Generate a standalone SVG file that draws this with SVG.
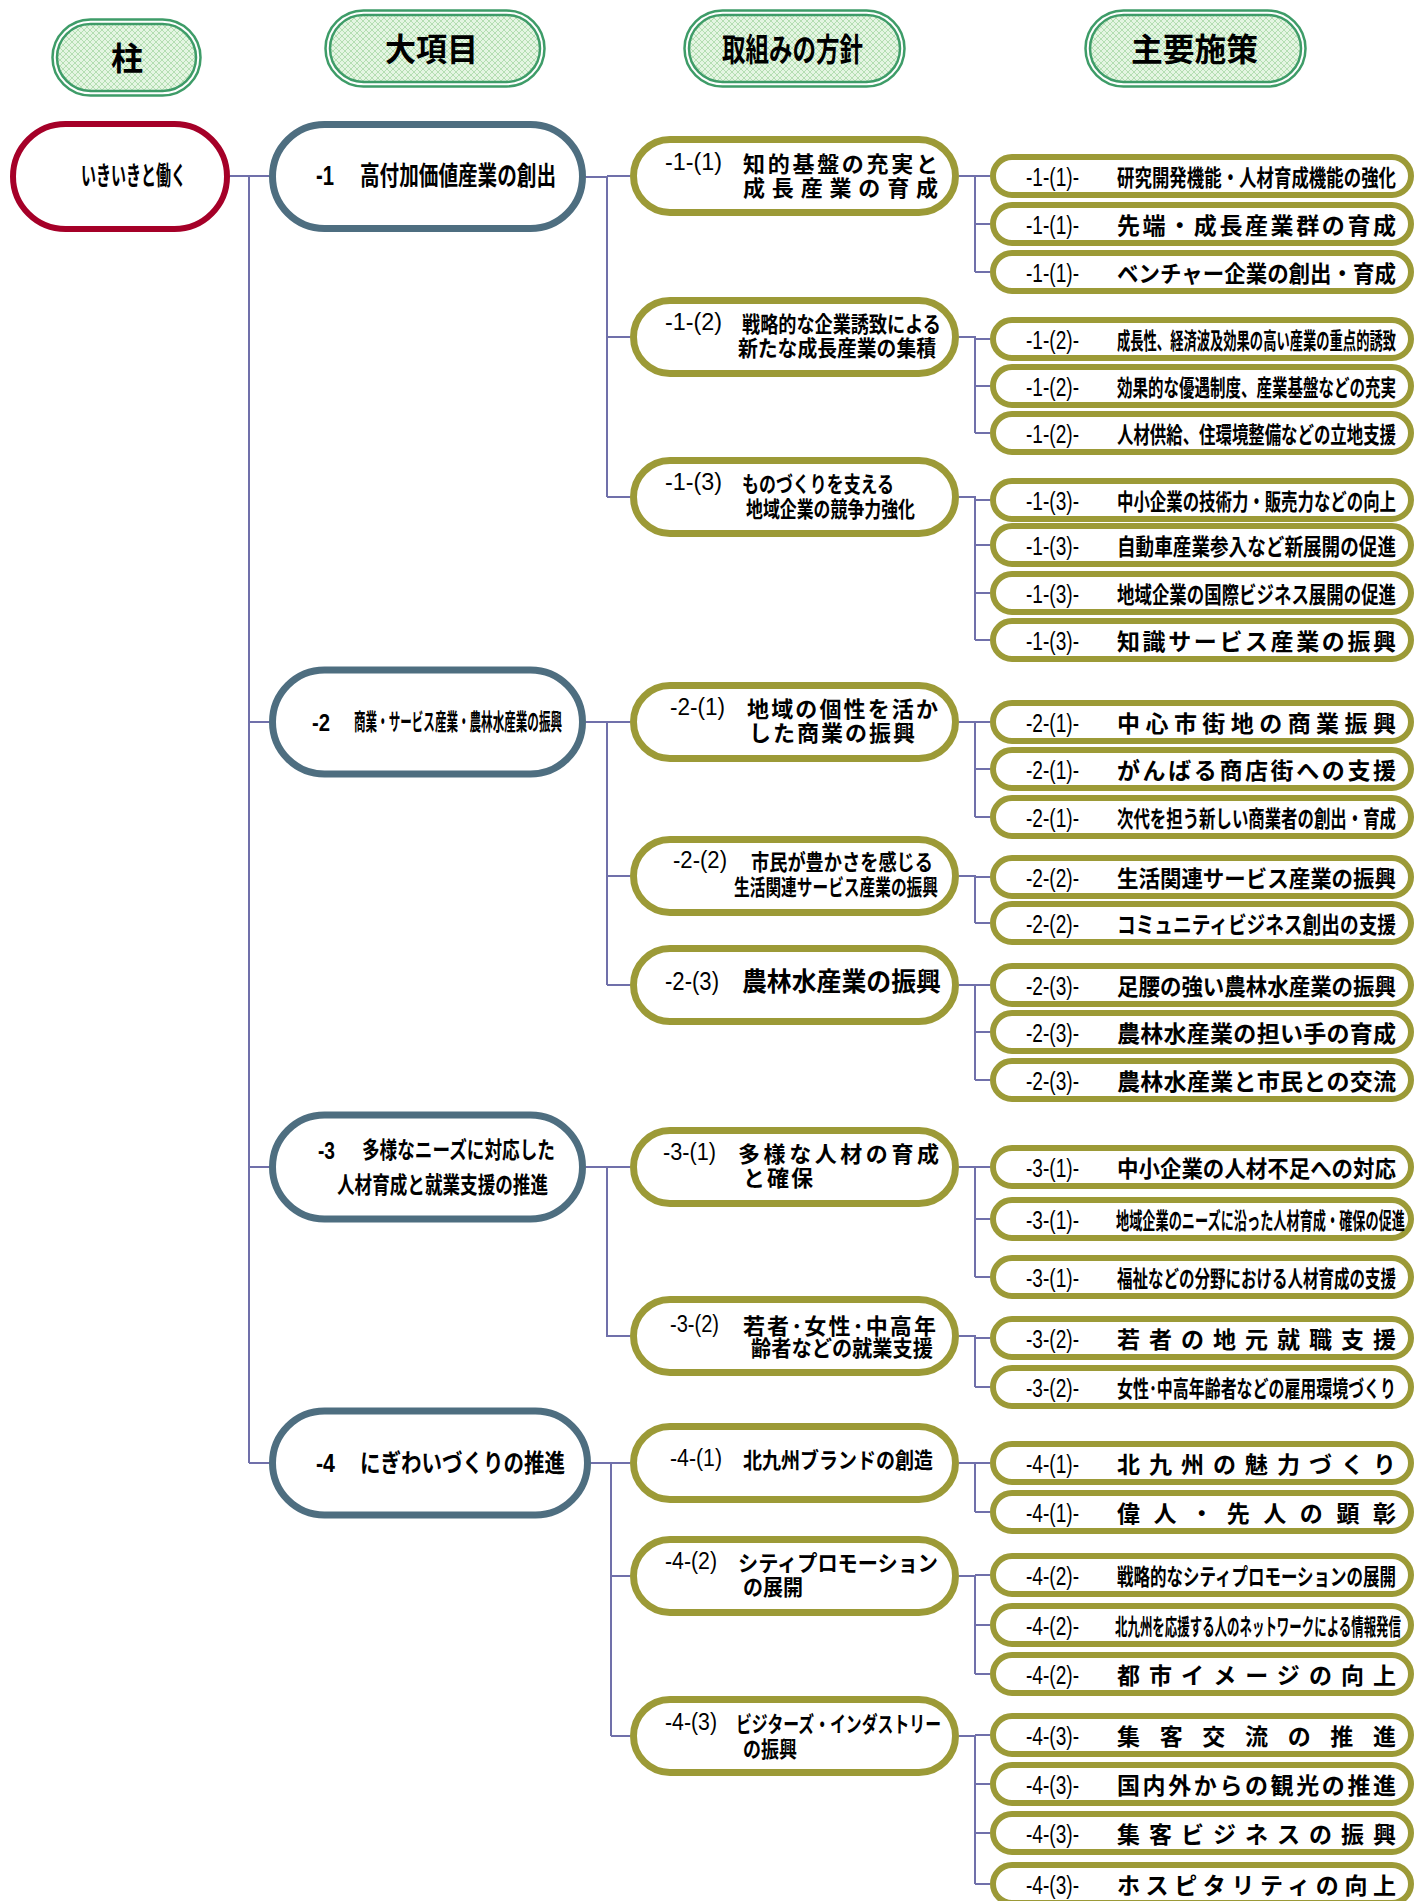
<svg xmlns="http://www.w3.org/2000/svg" width="1416" height="1901" viewBox="0 0 1416 1901">
<defs>
<pattern id="hatch" width="6" height="6" patternUnits="userSpaceOnUse">
<rect width="6" height="6" fill="#E4F5E2"/>
<path d="M0 0L6 6M6 0L0 6" stroke="#B4DEB2" stroke-width="1"/>
</pattern>
<style>
.c{stroke:#7070AA;stroke-width:2;fill:none}
.n0{fill:#fff;stroke:#A50028;stroke-width:6}
.n1{fill:#fff;stroke:#4E6E80;stroke-width:7}
.n2{fill:#fff;stroke:#9C9A37;stroke-width:7}
.n3{fill:#fff;stroke:#9C9A37;stroke-width:6}
.ho{fill:#fff;stroke:#3E9C68;stroke-width:2.5}
.hi{fill:url(#hatch);stroke:#3E9C68;stroke-width:2.5}
text{font-family:"Noto Sans CJK JP","Noto Sans CJK SC",sans-serif;font-weight:700;fill:#000}
.h{font-size:32px}
.p{font-family:"Liberation Sans","Noto Sans CJK JP",sans-serif}
.t3{font-size:23px}
.p3{font-size:25px;font-weight:400}
.t2{font-size:22px}
.p2{font-size:23px;font-weight:400}
</style>
</defs>
<rect width="1416" height="1901" fill="#fff"/>

<g id="connectors" class="c">
<path d="M230 176H249M249 176V1463M249 176H269M249 722H269M249 1167H269M249 1463H269"/>
<path d="M586 177H607V497M607 176H630M607 337H630M607 497H630"/>
<path d="M586 722H630M607 722V985M607 876H630M607 985H630"/>
<path d="M586 1167H630M607 1167V1336H630"/>
<path d="M591 1463H630M611 1463V1736M611 1576H630M611 1736H630"/>
<path d="M959 176H990M975 176V272M975 224H990M975 272H990"/>
<path d="M959 337H975V433M975 339H990M975 386H990M975 433H990"/>
<path d="M959 497H975V640M975 500H990M975 545H990M975 593H990M975 640H990"/>
<path d="M959 722H990M975 722V817M975 769H990M975 817H990"/>
<path d="M959 876H975V923M975 877H990M975 923H990"/>
<path d="M959 985H990M975 985V1080M975 1032H990M975 1080H990"/>
<path d="M959 1167H990M975 1167V1277M975 1219H990M975 1277H990"/>
<path d="M959 1336H975V1387M975 1338H990M975 1387H990"/>
<path d="M959 1463H990M975 1463V1512M975 1512H990"/>
<path d="M959 1576H975V1674M975 1575H990M975 1625H990M975 1674H990"/>
<path d="M959 1736H975V1884M975 1735H990M975 1784H990M975 1833H990M975 1884H990"/>
</g>

<g id="hdr-hashira"><rect class="ho" x="52.5" y="19.5" width="148" height="76" rx="38"/><rect class="hi" x="57" y="24" width="139" height="67" rx="33.5"/><text class="h" x="111" y="70" textLength="32" lengthAdjust="spacingAndGlyphs">柱</text></g>
<g id="hdr-daikoumoku"><rect class="ho" x="325.5" y="10.5" width="219" height="76" rx="38"/><rect class="hi" x="330" y="15" width="210" height="67" rx="33.5"/><text class="h" x="385" y="61" textLength="93" lengthAdjust="spacingAndGlyphs">大項目</text></g>
<g id="hdr-houshin"><rect class="ho" x="684.5" y="10.5" width="220" height="76" rx="38"/><rect class="hi" x="689" y="15" width="211" height="67" rx="33.5"/><text class="h" x="722" y="61" textLength="141" lengthAdjust="spacingAndGlyphs">取組みの方針</text></g>
<g id="hdr-shisaku"><rect class="ho" x="1085.5" y="10.5" width="220" height="76" rx="38"/><rect class="hi" x="1090" y="15" width="211" height="67" rx="33.5"/><text class="h" x="1131" y="61" textLength="127" lengthAdjust="spacingAndGlyphs">主要施策</text></g>

<g id="pillar"><rect class="n0" x="13" y="124" width="214" height="105" rx="52.5"/><text x="81" y="185" font-size="26" textLength="105" lengthAdjust="spacingAndGlyphs">いきいきと働く</text></g>

<g id="k1"><rect class="n1" x="272.5" y="124.5" width="310" height="104" rx="52"/><text class="p" x="316" y="185" font-size="27" textLength="18" lengthAdjust="spacingAndGlyphs">-1</text><text x="360" y="185" font-size="26" textLength="196" lengthAdjust="spacingAndGlyphs">高付加価値産業の創出</text></g>
<g id="k2"><rect class="n1" x="272.5" y="670" width="310" height="104" rx="52"/><text class="p" x="312" y="731" font-size="24" textLength="18" lengthAdjust="spacingAndGlyphs">-2</text><text x="354" y="730" font-size="23" textLength="208" lengthAdjust="spacingAndGlyphs">商業・サービス産業・農林水産業の振興</text></g>
<g id="k3"><rect class="n1" x="272.5" y="1115" width="310" height="104" rx="52"/><text class="p" x="318" y="1159" font-size="24" textLength="17" lengthAdjust="spacingAndGlyphs">-3</text><text x="362" y="1158" font-size="23" textLength="193" lengthAdjust="spacingAndGlyphs">多様なニーズに対応した</text><text x="337" y="1193" font-size="23" textLength="211" lengthAdjust="spacingAndGlyphs">人材育成と就業支援の推進</text></g>
<g id="k4"><rect class="n1" x="272.5" y="1411" width="315" height="104" rx="52"/><text class="p" x="316" y="1472" font-size="26" textLength="19" lengthAdjust="spacingAndGlyphs">-4</text><text x="360" y="1472" font-size="25" textLength="205" lengthAdjust="spacingAndGlyphs">にぎわいづくりの推進</text></g>

<g id="h1-1"><rect class="n2" x="633.5" y="139.5" width="322" height="73" rx="36.5"/><text class="p p2" x="665" y="170" textLength="57" lengthAdjust="spacingAndGlyphs">-1-(1)</text><text class="t2" x="743" y="172" textLength="195" lengthAdjust="spacing">知的基盤の充実と</text><text class="t2" x="743" y="196" textLength="195" lengthAdjust="spacing">成長産業の育成</text></g>
<g id="h1-2"><rect class="n2" x="633.5" y="300.5" width="322" height="73" rx="36.5"/><text class="p p2" x="665" y="330" textLength="57" lengthAdjust="spacingAndGlyphs">-1-(2)</text><text class="t2" x="742" y="332" textLength="199" lengthAdjust="spacingAndGlyphs">戦略的な企業誘致による</text><text class="t2" x="738" y="356" textLength="198" lengthAdjust="spacingAndGlyphs">新たな成長産業の集積</text></g>
<g id="h1-3"><rect class="n2" x="633.5" y="460.5" width="322" height="73" rx="36.5"/><text class="p p2" x="665" y="490" textLength="57" lengthAdjust="spacingAndGlyphs">-1-(3)</text><text class="t2" x="742" y="492" textLength="152" lengthAdjust="spacingAndGlyphs">ものづくりを支える</text><text class="t2" x="746" y="517" textLength="169" lengthAdjust="spacingAndGlyphs">地域企業の競争力強化</text></g>
<g id="h2-1"><rect class="n2" x="633.5" y="685.5" width="322" height="73" rx="36.5"/><text class="p p2" x="670" y="715" textLength="55" lengthAdjust="spacingAndGlyphs">-2-(1)</text><text class="t2" x="747" y="717" textLength="191" lengthAdjust="spacing">地域の個性を活か</text><text class="t2" x="749" y="741" textLength="166" lengthAdjust="spacing">した商業の振興</text></g>
<g id="h2-2"><rect class="n2" x="633.5" y="839.5" width="322" height="73" rx="36.5"/><text class="p p2" x="673" y="868" textLength="54" lengthAdjust="spacingAndGlyphs">-2-(2)</text><text class="t2" x="751" y="870" textLength="182" lengthAdjust="spacingAndGlyphs">市民が豊かさを感じる</text><text class="t2" x="734" y="895" textLength="204" lengthAdjust="spacingAndGlyphs">生活関連サービス産業の振興</text></g>
<g id="h2-3"><rect class="n2" x="633.5" y="948.5" width="322" height="73" rx="36.5"/><text class="p p2" x="665" y="990" style="font-size:26px" textLength="54" lengthAdjust="spacingAndGlyphs">-2-(3)</text><text x="742" y="991" font-size="26" textLength="199" lengthAdjust="spacingAndGlyphs">農林水産業の振興</text></g>
<g id="h3-1"><rect class="n2" x="633.5" y="1130.5" width="322" height="73" rx="36.5"/><text class="p p2" x="663" y="1160" textLength="53" lengthAdjust="spacingAndGlyphs">-3-(1)</text><text class="t2" x="738" y="1162" textLength="201" lengthAdjust="spacing">多様な人材の育成</text><text class="t2" x="743" y="1186" textLength="70" lengthAdjust="spacing">と確保</text></g>
<g id="h3-2"><rect class="n2" x="633.5" y="1299.5" width="322" height="73" rx="36.5"/><text class="p p2" x="670" y="1332" textLength="49" lengthAdjust="spacingAndGlyphs">-3-(2)</text><text class="t2" x="743" y="1334" textLength="193" lengthAdjust="spacing">若者･女性･中高年</text><text class="t2" x="751" y="1356" textLength="182" lengthAdjust="spacingAndGlyphs">齢者などの就業支援</text></g>
<g id="h4-1"><rect class="n2" x="633.5" y="1426.5" width="322" height="73" rx="36.5"/><text class="p p2" x="670" y="1466" textLength="52" lengthAdjust="spacingAndGlyphs">-4-(1)</text><text class="t2" x="743" y="1468" textLength="190" lengthAdjust="spacingAndGlyphs">北九州ブランドの創造</text></g>
<g id="h4-2"><rect class="n2" x="633.5" y="1539.5" width="322" height="73" rx="36.5"/><text class="p p2" x="665" y="1569" textLength="52" lengthAdjust="spacingAndGlyphs">-4-(2)</text><text class="t2" x="738" y="1571" textLength="200" lengthAdjust="spacingAndGlyphs">シティプロモーション</text><text class="t2" x="743" y="1595" textLength="60" lengthAdjust="spacingAndGlyphs">の展開</text></g>
<g id="h4-3"><rect class="n2" x="633.5" y="1699.5" width="322" height="73" rx="36.5"/><text class="p p2" x="665" y="1730" textLength="52" lengthAdjust="spacingAndGlyphs">-4-(3)</text><text class="t2" x="736" y="1732" textLength="205" lengthAdjust="spacingAndGlyphs">ビジターズ・インダストリー</text><text class="t2" x="743" y="1757" textLength="54" lengthAdjust="spacingAndGlyphs">の振興</text></g>

<g id="m1-1-1"><rect class="n3" x="993" y="157" width="418" height="38" rx="19"/><text class="p p3" x="1026" y="186" textLength="53" lengthAdjust="spacingAndGlyphs">-1-(1)-</text><text class="t3" x="1117" y="186" textLength="279" lengthAdjust="spacingAndGlyphs">研究開発機能・人材育成機能の強化</text></g>
<g id="m1-1-2"><rect class="n3" x="993" y="205" width="418" height="38" rx="19"/><text class="p p3" x="1026" y="234" textLength="53" lengthAdjust="spacingAndGlyphs">-1-(1)-</text><text class="t3" x="1117" y="234" textLength="279" lengthAdjust="spacing">先端・成長産業群の育成</text></g>
<g id="m1-1-3"><rect class="n3" x="993" y="253" width="418" height="38" rx="19"/><text class="p p3" x="1026" y="282" textLength="53" lengthAdjust="spacingAndGlyphs">-1-(1)-</text><text class="t3" x="1117" y="282" textLength="279" lengthAdjust="spacingAndGlyphs">ベンチャー企業の創出・育成</text></g>
<g id="m1-2-1"><rect class="n3" x="993" y="320" width="418" height="38" rx="19"/><text class="p p3" x="1026" y="349" textLength="53" lengthAdjust="spacingAndGlyphs">-1-(2)-</text><text class="t3" x="1117" y="349" textLength="279" lengthAdjust="spacingAndGlyphs">成長性、経済波及効果の高い産業の重点的誘致</text></g>
<g id="m1-2-2"><rect class="n3" x="993" y="367" width="418" height="38" rx="19"/><text class="p p3" x="1026" y="396" textLength="53" lengthAdjust="spacingAndGlyphs">-1-(2)-</text><text class="t3" x="1117" y="396" textLength="279" lengthAdjust="spacingAndGlyphs">効果的な優遇制度、産業基盤などの充実</text></g>
<g id="m1-2-3"><rect class="n3" x="993" y="414" width="418" height="38" rx="19"/><text class="p p3" x="1026" y="443" textLength="53" lengthAdjust="spacingAndGlyphs">-1-(2)-</text><text class="t3" x="1117" y="443" textLength="279" lengthAdjust="spacingAndGlyphs">人材供給、住環境整備などの立地支援</text></g>
<g id="m1-3-1"><rect class="n3" x="993" y="481" width="418" height="38" rx="19"/><text class="p p3" x="1026" y="510" textLength="53" lengthAdjust="spacingAndGlyphs">-1-(3)-</text><text class="t3" x="1117" y="510" textLength="279" lengthAdjust="spacingAndGlyphs">中小企業の技術力・販売力などの向上</text></g>
<g id="m1-3-2"><rect class="n3" x="993" y="526" width="418" height="38" rx="19"/><text class="p p3" x="1026" y="555" textLength="53" lengthAdjust="spacingAndGlyphs">-1-(3)-</text><text class="t3" x="1117" y="555" textLength="279" lengthAdjust="spacingAndGlyphs">自動車産業参入など新展開の促進</text></g>
<g id="m1-3-3"><rect class="n3" x="993" y="574" width="418" height="38" rx="19"/><text class="p p3" x="1026" y="603" textLength="53" lengthAdjust="spacingAndGlyphs">-1-(3)-</text><text class="t3" x="1117" y="603" textLength="279" lengthAdjust="spacingAndGlyphs">地域企業の国際ビジネス展開の促進</text></g>
<g id="m1-3-4"><rect class="n3" x="993" y="621" width="418" height="38" rx="19"/><text class="p p3" x="1026" y="650" textLength="53" lengthAdjust="spacingAndGlyphs">-1-(3)-</text><text class="t3" x="1117" y="650" textLength="279" lengthAdjust="spacing">知識サービス産業の振興</text></g>
<g id="m2-1-1"><rect class="n3" x="993" y="703" width="418" height="38" rx="19"/><text class="p p3" x="1026" y="732" textLength="53" lengthAdjust="spacingAndGlyphs">-2-(1)-</text><text class="t3" x="1117" y="732" textLength="279" lengthAdjust="spacing">中心市街地の商業振興</text></g>
<g id="m2-1-2"><rect class="n3" x="993" y="750" width="418" height="38" rx="19"/><text class="p p3" x="1026" y="779" textLength="53" lengthAdjust="spacingAndGlyphs">-2-(1)-</text><text class="t3" x="1117" y="779" textLength="279" lengthAdjust="spacing">がんばる商店街への支援</text></g>
<g id="m2-1-3"><rect class="n3" x="993" y="798" width="418" height="38" rx="19"/><text class="p p3" x="1026" y="827" textLength="53" lengthAdjust="spacingAndGlyphs">-2-(1)-</text><text class="t3" x="1117" y="827" textLength="279" lengthAdjust="spacingAndGlyphs">次代を担う新しい商業者の創出・育成</text></g>
<g id="m2-2-1"><rect class="n3" x="993" y="858" width="418" height="38" rx="19"/><text class="p p3" x="1026" y="887" textLength="53" lengthAdjust="spacingAndGlyphs">-2-(2)-</text><text class="t3" x="1117" y="887" textLength="279" lengthAdjust="spacingAndGlyphs">生活関連サービス産業の振興</text></g>
<g id="m2-2-2"><rect class="n3" x="993" y="904" width="418" height="38" rx="19"/><text class="p p3" x="1026" y="933" textLength="53" lengthAdjust="spacingAndGlyphs">-2-(2)-</text><text class="t3" x="1117" y="933" textLength="279" lengthAdjust="spacingAndGlyphs">コミュニティビジネス創出の支援</text></g>
<g id="m2-3-1"><rect class="n3" x="993" y="966" width="418" height="38" rx="19"/><text class="p p3" x="1026" y="995" textLength="53" lengthAdjust="spacingAndGlyphs">-2-(3)-</text><text class="t3" x="1117" y="995" textLength="279" lengthAdjust="spacingAndGlyphs">足腰の強い農林水産業の振興</text></g>
<g id="m2-3-2"><rect class="n3" x="993" y="1013" width="418" height="38" rx="19"/><text class="p p3" x="1026" y="1042" textLength="53" lengthAdjust="spacingAndGlyphs">-2-(3)-</text><text class="t3" x="1117" y="1042" textLength="279" lengthAdjust="spacing">農林水産業の担い手の育成</text></g>
<g id="m2-3-3"><rect class="n3" x="993" y="1061" width="418" height="38" rx="19"/><text class="p p3" x="1026" y="1090" textLength="53" lengthAdjust="spacingAndGlyphs">-2-(3)-</text><text class="t3" x="1117" y="1090" textLength="279" lengthAdjust="spacing">農林水産業と市民との交流</text></g>
<g id="m3-1-1"><rect class="n3" x="993" y="1148" width="418" height="38" rx="19"/><text class="p p3" x="1026" y="1177" textLength="53" lengthAdjust="spacingAndGlyphs">-3-(1)-</text><text class="t3" x="1117" y="1177" textLength="279" lengthAdjust="spacingAndGlyphs">中小企業の人材不足への対応</text></g>
<g id="m3-1-2"><rect class="n3" x="993" y="1200" width="418" height="38" rx="19"/><text class="p p3" x="1026" y="1229" textLength="53" lengthAdjust="spacingAndGlyphs">-3-(1)-</text><text class="t3" x="1116" y="1229" textLength="289" lengthAdjust="spacingAndGlyphs">地域企業のニーズに沿った人材育成・確保の促進</text></g>
<g id="m3-1-3"><rect class="n3" x="993" y="1258" width="418" height="38" rx="19"/><text class="p p3" x="1026" y="1287" textLength="53" lengthAdjust="spacingAndGlyphs">-3-(1)-</text><text class="t3" x="1117" y="1287" textLength="279" lengthAdjust="spacingAndGlyphs">福祉などの分野における人材育成の支援</text></g>
<g id="m3-2-1"><rect class="n3" x="993" y="1319" width="418" height="38" rx="19"/><text class="p p3" x="1026" y="1348" textLength="53" lengthAdjust="spacingAndGlyphs">-3-(2)-</text><text class="t3" x="1117" y="1348" textLength="279" lengthAdjust="spacing">若者の地元就職支援</text></g>
<g id="m3-2-2"><rect class="n3" x="993" y="1368" width="418" height="38" rx="19"/><text class="p p3" x="1026" y="1397" textLength="53" lengthAdjust="spacingAndGlyphs">-3-(2)-</text><text class="t3" x="1117" y="1397" textLength="279" lengthAdjust="spacingAndGlyphs">女性･中高年齢者などの雇用環境づくり</text></g>
<g id="m4-1-1"><rect class="n3" x="993" y="1444" width="418" height="38" rx="19"/><text class="p p3" x="1026" y="1473" textLength="53" lengthAdjust="spacingAndGlyphs">-4-(1)-</text><text class="t3" x="1117" y="1473" textLength="279" lengthAdjust="spacing">北九州の魅力づくり</text></g>
<g id="m4-1-2"><rect class="n3" x="993" y="1493" width="418" height="38" rx="19"/><text class="p p3" x="1026" y="1522" textLength="53" lengthAdjust="spacingAndGlyphs">-4-(1)-</text><text class="t3" x="1117" y="1522" textLength="279" lengthAdjust="spacing">偉人・先人の顕彰</text></g>
<g id="m4-2-1"><rect class="n3" x="993" y="1556" width="418" height="38" rx="19"/><text class="p p3" x="1026" y="1585" textLength="53" lengthAdjust="spacingAndGlyphs">-4-(2)-</text><text class="t3" x="1117" y="1585" textLength="279" lengthAdjust="spacingAndGlyphs">戦略的なシティプロモーションの展開</text></g>
<g id="m4-2-2"><rect class="n3" x="993" y="1606" width="418" height="38" rx="19"/><text class="p p3" x="1026" y="1635" textLength="53" lengthAdjust="spacingAndGlyphs">-4-(2)-</text><text class="t3" x="1115" y="1635" textLength="286" lengthAdjust="spacingAndGlyphs">北九州を応援する人のネットワークによる情報発信</text></g>
<g id="m4-2-3"><rect class="n3" x="993" y="1655" width="418" height="38" rx="19"/><text class="p p3" x="1026" y="1684" textLength="53" lengthAdjust="spacingAndGlyphs">-4-(2)-</text><text class="t3" x="1117" y="1684" textLength="279" lengthAdjust="spacing">都市イメージの向上</text></g>
<g id="m4-3-1"><rect class="n3" x="993" y="1716" width="418" height="38" rx="19"/><text class="p p3" x="1026" y="1745" textLength="53" lengthAdjust="spacingAndGlyphs">-4-(3)-</text><text class="t3" x="1117" y="1745" textLength="279" lengthAdjust="spacing">集客交流の推進</text></g>
<g id="m4-3-2"><rect class="n3" x="993" y="1765" width="418" height="38" rx="19"/><text class="p p3" x="1026" y="1794" textLength="53" lengthAdjust="spacingAndGlyphs">-4-(3)-</text><text class="t3" x="1117" y="1794" textLength="279" lengthAdjust="spacing">国内外からの観光の推進</text></g>
<g id="m4-3-3"><rect class="n3" x="993" y="1814" width="418" height="38" rx="19"/><text class="p p3" x="1026" y="1843" textLength="53" lengthAdjust="spacingAndGlyphs">-4-(3)-</text><text class="t3" x="1117" y="1843" textLength="279" lengthAdjust="spacing">集客ビジネスの振興</text></g>
<g id="m4-3-4"><rect class="n3" x="993" y="1865" width="418" height="38" rx="19"/><text class="p p3" x="1026" y="1894" textLength="53" lengthAdjust="spacingAndGlyphs">-4-(3)-</text><text class="t3" x="1117" y="1894" textLength="279" lengthAdjust="spacing">ホスピタリティの向上</text></g>
</svg>
